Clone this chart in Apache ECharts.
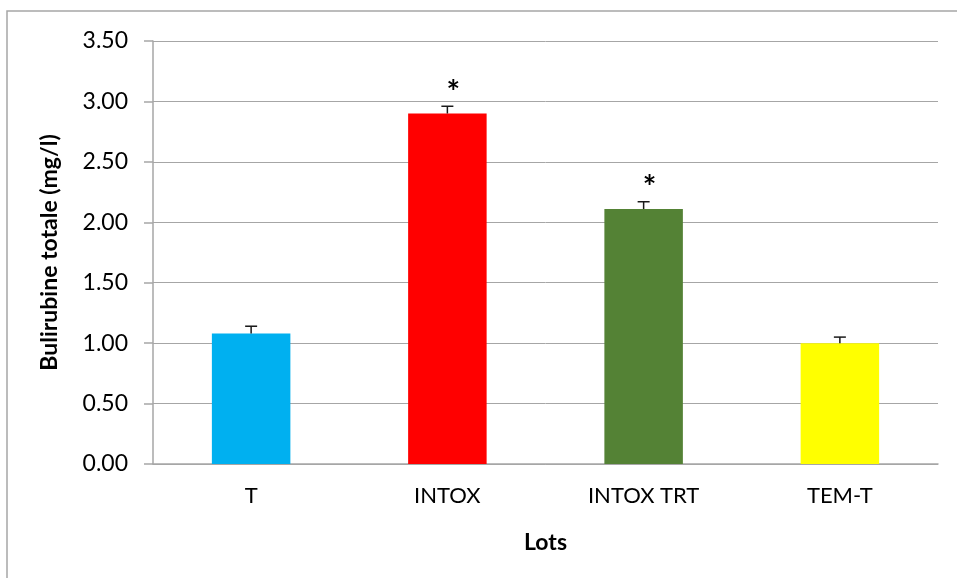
<!DOCTYPE html>
<html>
<head>
<meta charset="utf-8">
<script src="https://cdn.jsdelivr.net/npm/echarts@6/dist/echarts.min.js"></script>
<style>
html,body{margin:0;padding:0;background:#fff;}
#main{width:957px;height:578px;}
</style>
</head>
<body>
<div id="main"></div>
<script>
var categories = ['T', 'INTOX', 'INTOX TRT', 'TEM-T'];
var values = [1.08, 2.90, 2.11, 1.00];
var errors = [0.06, 0.06, 0.06, 0.05];
var marks = ['', '*', '*', ''];
var barColors = ['#00B0F0', '#FF0000', '#548235', '#FFFF00'];
var yTicks = ['0.00','0.50','1.00','1.50','2.00','2.50','3.00','3.50'];

var FONT = 'Lato, "Open Sans", sans-serif';
var chart = echarts.init(document.getElementById('main'), null, {renderer: 'canvas'});

var option = {
  animation: false,
  backgroundColor: '#fff',
  graphic: [{
    type: 'rect',
    shape: {x: 7, y: 11, width: 980, height: 600},
    style: {fill: 'none', stroke: '#a6a6a6', lineWidth: 1.5},
    silent: true,
    z: -10
  }],
  grid: {left: 153, right: 19, top: 41, bottom: 114, containLabel: false},
  xAxis: {
    type: 'category',
    data: categories,
    name: 'Lots',
    nameLocation: 'middle',
    nameGap: 67,
    nameTextStyle: {fontFamily: FONT, fontSize: 23, fontWeight: 'bold', color: '#000'},
    axisLine: {show: true, lineStyle: {color: '#a6a6a6', width: 1.5}},
    axisTick: {show: false},
    axisLabel: {fontFamily: FONT, fontSize: 22, color: '#000', margin: 21}
  },
  yAxis: {
    type: 'value',
    min: 0,
    max: 3.5,
    interval: 0.5,
    name: 'Bulirubine totale (mg/l)',
    nameLocation: 'middle',
    nameGap: 92,
    nameTextStyle: {fontFamily: FONT, fontSize: 23, fontWeight: 'bold', color: '#000'},
    axisLine: {show: true, lineStyle: {color: '#a6a6a6', width: 1.5}},
    axisTick: {show: true, inside: false, length: 9, lineStyle: {color: '#a6a6a6', width: 1.5}},
    splitLine: {show: true, lineStyle: {color: '#a6a6a6', width: 1}},
    axisLabel: {
      fontFamily: FONT, fontSize: 23, color: '#000', margin: 25,
      formatter: function (v) { return yTicks[Math.round(v / 0.5)]; }
    }
  },
  series: [
    {
      type: 'bar',
      barWidth: '40%',
      data: values.map(function (v, i) {
        return {value: v, itemStyle: {color: barColors[i]}};
      }),
      z: 2
    },
    {
      type: 'custom',
      z: 5,
      data: values.map(function (v, i) { return [i, v, errors[i]]; }),
      renderItem: function (params, api) {
        var i = api.value(0);
        var v = api.value(1);
        var e = api.value(2);
        var base = api.coord([i, v]);
        var top = api.coord([i, v + e]);
        var children = [
          {type: 'line', shape: {x1: base[0], y1: base[1], x2: top[0], y2: top[1]},
           style: {stroke: '#1a1a1a', lineWidth: 1.5}},
          {type: 'line', shape: {x1: top[0] - 6, y1: top[1], x2: top[0] + 6, y2: top[1]},
           style: {stroke: '#1a1a1a', lineWidth: 1.5}}
        ];
        if (marks[i]) {
          children.push({
            type: 'text',
            style: {
              text: marks[i], x: top[0] + 6, y: top[1] - 13,
              fill: '#000', font: 'bold 32px ' + FONT,
              textAlign: 'center', textVerticalAlign: 'middle'
            }
          });
        }
        return {type: 'group', children: children};
      }
    }
  ]
};
chart.setOption(option);
</script>
</body>
</html>
